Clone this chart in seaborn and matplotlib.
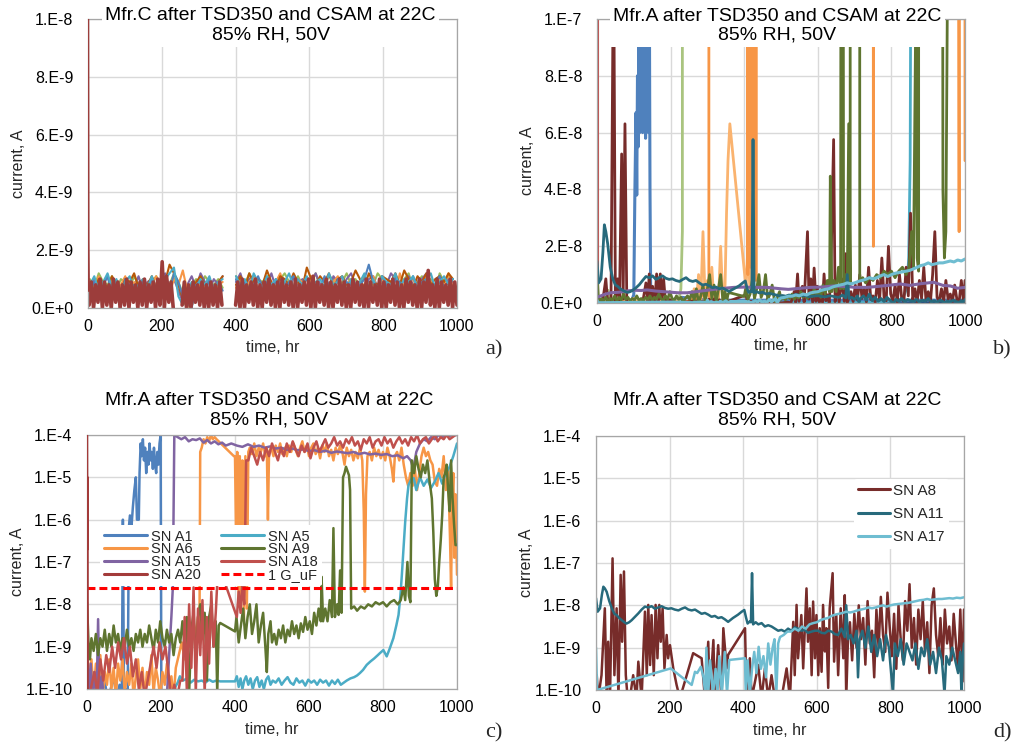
import numpy as np
import matplotlib
matplotlib.use("Agg")
import matplotlib.pyplot as plt
from matplotlib.lines import Line2D
from matplotlib.ticker import LogLocator, NullFormatter
import seaborn as sns

nan = np.nan

# ======================= DATA =======================
# x axis
x_ticks = [0, 200, 400, 600, 800, 1000]

# ---- panel a (Mfr.C) : current in units of 1e-10 A ----
a_red_start = [(0, 100), (0.8, 24), (2, 6)]
a_red_step = 6            # hr, sampling of the red trace
a_red_t0 = [3, 400]       # start of the two recorded blocks
a_red1 = [1, 9, 0, 8, 2, 10, 0, 9, 1, 8, 0, 10, 2, 9, 0, 8, 1, 10, 0, 9, 2, 8, 0, 9, 1, 10, 0, 8, 2, 9,
          0, 10, 1, 16, 0, 11, 2, 9, 0, nan, nan, nan, 1, 9, 0, 8, 0, 9, 2, 8, 1, 9, 0, 8, 0, 9, 1, 8, 0, 9, 1]
a_red2 = [1, 9, 0, 10, 0, 8, 2, 9, 1, 10, 0, 8, 0, 9, 2, 10, 1, 8, 0, 9, 0, 10, 2, 8, 1, 9, 0, 10, 0, 8,
          2, 9, 1, 10, 0, 11, 0, 9, 2, 8, 1, 10, 0, 9, 0, 8, 2, 10, 1, 9, 0, 8, 0, 10, 2, 9, 1, 8, 0, 10,
          0, 9, 2, 8, 1, 10, 0, 9, 0, 8, 2, 10, 1, 9, 0, 8, 0, 10, 2, 9, 1, 8, 0, 10, 0, 9, 2, 13, 1, 8,
          0, 10, 0, 9, 2, 8, 1, 10, 0, 9, 1]
a_other_step = 12
a_other_t0 = [5, 401]
a_blue1 = [6, 9, 4, 8, 11, 5, 9, 3, 10, 7, 8, 4, 9, 6, 10, 5, 8, 11, 6, 12, 9, 4, 2, 0, 8, 9, 5, 10, 7, 9, 6]
a_blue2 = [10, 6, 9, 5, 8, 11, 7, 9, 4, 10, 8, 6, 9, 11, 5, 8, 10, 7, 9, 6, 11, 8, 5, 10, 7, 9, 8, 6, 8, 10,
           15, 9, 7, 11, 8, 6, 10, 9, 5, 8, 11, 7, 9, 10, 6, 8, 11, 7, 9, 10]
a_orange1 = [9, 5, 11, 7, 4, 10, 6, 8, 11, 5, 9, 7, 10, 4, 8, 11, 6, 9, 5, 10, 8, 13, 6, 1, 3, 9, 7, 10, 5, 8, 9]
a_orange2 = [7, 10, 5, 9, 11, 6, 8, 10, 4, 9, 12, 7, 8, 5, 10, 9, 6, 11, 8, 7, 10, 5, 9, 11, 6, 8, 10, 7, 9, 5,
             8, 11, 6, 10, 8, 9, 5, 12, 7, 9, 10, 6, 8, 11, 9, 5, 10, 8, 12, 7]
a_aqua1 = [8, 11, 6, 9, 12, 7, 10, 5, 9, 11, 6, 8, 10, 7, 11, 6, 9, 10, 12, 14, 4, 1, 6, 9, 7, 10, 8, 11, 6, 9, 10]
a_aqua2 = [11, 8, 10, 6, 12, 9, 7, 11, 8, 10, 6, 9, 12, 7, 10, 8, 11, 6, 9, 10, 7, 12, 8, 9, 11, 6, 10, 8, 9, 12,
           7, 10, 6, 11, 9, 8, 12, 7, 10, 9, 11, 6, 8, 10, 12, 7, 9, 11, 8, 10]
a_purple1 = [7, 10, 5, 8, 11, 6, 9, 4, 10, 8, 7, 11, 6, 9, 10, 5, 8, 12, 7, 10, 6, 2, 8, 11, 7, 12, 9, 6, 10, 8, 11]
a_purple2 = [9, 12, 7, 10, 11, 6, 9, 8, 12, 7, 10, 9, 6, 11, 8, 10, 7, 9, 12, 8, 10, 6, 11, 9, 7, 10, 12, 8, 9, 6,
             10, 11, 7, 9, 8, 12, 10, 6, 9, 11, 8, 7, 10, 12, 9, 8, 11, 7, 10, 9]
a_green1 = [10, 7, 12, 9, 8, 11, 6, 10, 9, 7, 11, 8, 10, 6, 9, 11, 7, 10, 8, 12, 9, 5, 1, 8, 10, 7, 11, 9, 8, 10, 7]
a_green2 = [11, 9, 8, 12, 7, 10, 9, 11, 8, 6, 10, 12, 9, 7, 11, 8, 10, 9, 12, 7, 8, 11, 10, 6, 9, 12, 8, 10, 7, 11,
            9, 8, 12, 10, 7, 9, 11, 8, 10, 12, 7, 9, 11, 8, 10, 6, 12, 9, 11, 10]
a_dkorange1 = [8, 6, 10, 9, 7, 11, 8, 6, 10, 9, 12, 7, 9, 8, 11, 7, 10, 9, 15, 12, 8, 3, 0, 7, 9, 11, 8, 10, 6, 9, 11]
a_dkorange2 = [8, 11, 7, 12, 9, 10, 8, 13, 9, 7, 11, 10, 8, 12, 9, 7, 14, 10, 8, 11, 9, 12, 7, 10, 11, 8, 9, 13, 10, 7,
               12, 9, 8, 11, 10, 9, 12, 8, 13, 10, 7, 11, 9, 12, 8, 10, 11, 9, 12, 10]

# ---- panels b, c, d (Mfr.A) : (time hr, log10 current A) ----
A1 = [(0, -9.5), (8, -10.0), (16, -9.7), (24, -10.2), (32, -9.9), (40, -10.1), (48, -9.8), (56, -10.3), (64, -10.0),
      (72, -9.7), (80, -10.2), (88, -9.9), (94, -10.2), (97, -6.0), (100, -10.2), (104, -10.0), (110, -10.2),
      (113, -6.2), (116, -5.9), (120, -6.2), (124, -5.7), (128, -5.3), (132, -5.0), (135, -6.0), (138, -6.0),
      (140, -6.0), (142, -4.9), (145, -4.2), (148, -4.5), (151, -4.1), (154, -4.6), (157, -4.3), (160, -4.9),
      (163, -4.4), (166, -4.7), (169, -4.2), (172, -4.6), (175, -4.4), (178, -4.8), (181, -4.3), (184, -4.7),
      (187, -4.9), (190, -4.4), (193, -4.7), (196, -4.2), (199, -4.0), (201, -10.5)]
A6 = [(0, -9.0), (6, -9.8), (12, -9.3), (18, -10.1), (24, -9.4), (30, -9.9), (36, -9.2), (42, -10.2), (48, -9.6),
      (54, -9.9), (60, -9.3), (66, -10.0), (72, -9.5), (78, -10.2), (84, -9.4), (90, -9.8), (96, -9.3), (102, -10.1),
      (108, -9.6), (114, -9.9), (120, -9.4), (126, -10.2), (132, -9.7), (138, -9.3), (144, -10.0), (150, -9.5),
      (156, -10.2), (162, -9.6), (168, -9.9), (174, -9.2), (180, -10.1), (186, -9.5), (192, -9.8), (198, -10.2),
      (204, -9.6), (210, -9.9), (216, -9.4), (222, -10.1), (228, -9.7), (234, -10.2), (240, -9.5), (248, -9.2),
      (256, -8.9), (264, -9.3), (272, -8.7), (280, -9.0), (288, -8.4), (294, -8.8), (300, -8.3), (304, -8.6),
      (306, -4.4), (310, -4.3), (315, -4.1), (320, -4.2), (325, -4.05), (330, -4.15), (335, -4.0), (340, -4.1),
      (345, -4.05), (350, -4.1), (397, -4.5), (400, -4.5), (403, -6.5), (406, -4.4), (410, -8.0), (413, -4.5),
      (417, -7.9), (420, -4.6), (424, -8.4), (428, -4.5), (432, -8.1), (436, -4.4),
      (440, -4.3), (446, -4.45), (452, -4.2), (458, -4.5), (464, -4.3), (470, -4.4), (476, -4.2), (482, -4.5),
      (486, -4.3), (489, -6.0), (492, -4.4), (498, -4.3), (504, -4.5), (510, -4.25), (516, -4.4), (522, -4.2),
      (528, -4.45), (534, -4.3), (540, -4.5), (546, -4.25), (552, -4.4), (558, -4.2), (564, -4.35), (570, -4.5),
      (576, -4.3), (582, -4.15), (588, -4.4), (594, -4.25), (600, -4.5), (606, -4.3), (612, -4.2), (618, -4.45),
      (624, -4.3), (630, -4.55), (636, -4.25), (642, -4.4), (648, -4.2), (654, -4.5), (660, -4.35), (666, -4.6),
      (672, -4.3), (678, -4.45), (684, -4.25), (690, -4.4), (696, -4.7), (702, -4.3), (708, -4.5), (714, -4.35),
      (720, -4.6), (726, -4.4), (732, -4.55), (738, -4.3), (744, -4.6), (748, -5.8), (751, -7.7), (754, -5.4),
      (758, -4.5), (764, -4.4), (770, -4.6), (776, -4.3), (782, -4.5), (788, -4.35), (794, -4.55), (800, -4.4),
      (806, -4.6), (812, -4.3), (818, -4.5), (824, -4.8), (828, -5.1), (832, -4.5), (838, -4.4), (844, -4.6),
      (850, -4.3), (856, -4.7), (862, -5.0), (868, -5.2), (874, -4.9), (880, -5.2), (886, -4.8), (892, -5.3),
      (898, -4.9), (904, -4.5), (910, -4.3), (916, -4.5), (922, -4.4), (928, -4.6), (934, -4.7), (940, -5.1),
      (946, -5.2), (952, -4.8), (958, -5.0), (964, -4.5), (970, -5.3), (976, -4.8), (981, -6.4), (984, -7.6),
      (987, -5.6), (990, -4.9), (993, -6.9), (996, -5.4), (1000, -7.3)]
A15 = [(0, -9.0), (5, -10.2), (10, -9.4), (15, -10.2), (20, -9.6), (26, -10.2), (30, -8.35), (34, -10.2), (40, -9.7),
       (46, -10.3), (215, -10.3), (222, -9.2), (228, -8.3), (232, -7.6), (236, -4.0), (245, -4.05), (255, -4.1),
       (265, -4.05), (275, -4.15), (285, -4.1), (295, -4.12), (305, -4.08), (315, -4.18), (325, -4.12), (335, -4.2),
       (345, -4.15), (355, -4.22), (365, -4.18), (375, -4.25), (390, -4.2), (405, -4.25), (420, -4.28), (435, -4.22),
       (450, -4.28), (465, -4.25), (480, -4.3), (495, -4.27), (510, -4.32), (525, -4.3), (540, -4.35), (555, -4.32),
       (570, -4.36), (585, -4.34), (600, -4.38), (615, -4.36), (630, -4.4), (645, -4.37), (660, -4.42), (675, -4.39),
       (690, -4.41), (705, -4.43), (720, -4.4), (735, -4.45), (750, -4.42), (765, -4.46), (780, -4.44), (795, -4.47),
       (810, -4.45), (825, -4.5), (840, -4.48), (855, -4.55), (865, -4.5), (875, -4.6), (882, -4.8), (890, -4.4),
       (900, -4.2), (910, -4.1), (920, -4.15), (930, -4.05), (940, -4.1), (950, -4.0), (960, -4.05), (970, -4.0),
       (980, -4.02), (990, -4.0), (1000, -4.0)]
A20 = [(0, -4.0), (0.6, -6.7), (1.2, -5.0), (1.8, -10.5)]
A5 = [(0, -10.3), (230, -10.3), (236, -10.0), (245, -9.85), (251, -9.7), (260, -9.8), (270, -9.75), (280, -9.85),
      (290, -9.78), (300, -9.82), (310, -9.8), (320, -9.85), (330, -9.78), (340, -9.83), (350, -9.8), (360, -9.82),
      (400, -9.82), (405, -9.7), (410, -9.95), (415, -9.75), (420, -10.0), (425, -9.8), (430, -9.7), (436, -9.9),
      (442, -9.75), (448, -10.0), (454, -9.8), (460, -9.72), (466, -9.95), (472, -9.8), (478, -10.0), (484, -9.78),
      (490, -9.7), (496, -9.9), (502, -9.8), (510, -9.85), (518, -9.75), (526, -9.9), (534, -9.8), (542, -9.72),
      (550, -9.85), (558, -9.9), (566, -9.75), (574, -9.85), (582, -9.8), (590, -9.92), (598, -9.78), (606, -9.85),
      (614, -9.8), (622, -9.9), (630, -9.78), (638, -9.85), (646, -9.8), (654, -9.92), (662, -9.8), (670, -9.88),
      (678, -9.78), (686, -9.9), (694, -9.85), (702, -9.8), (712, -9.75), (722, -9.72), (730, -9.68), (738, -9.62),
      (746, -9.55), (756, -9.43), (766, -9.35), (776, -9.28), (786, -9.2), (792, -9.15), (801, -9.08), (810, -9.23),
      (818, -9.05), (828, -8.8), (836, -8.5), (842, -8.25), (847, -7.8), (851, -7.3), (856, -6.6), (860, -6.05),
      (865, -5.5), (869, -5.18), (876, -5.05), (883, -5.02), (890, -5.3), (900, -5.0), (910, -5.2), (920, -5.05),
      (930, -5.25), (940, -5.1), (950, -4.9), (960, -5.15), (970, -4.9), (980, -4.75), (990, -4.5), (1000, -4.2)]
A9 = [(0, -7.95), (4, -8.9), (8, -9.3), (12, -8.8), (18, -9.1), (24, -8.7), (30, -9.2), (36, -8.8), (42, -9.0),
      (48, -8.6), (54, -9.1), (60, -8.7), (66, -9.0), (72, -8.5), (78, -8.9), (84, -8.7), (90, -9.1), (96, -8.8),
      (102, -9.0), (108, -8.6), (114, -9.0), (120, -8.8), (126, -9.1), (132, -8.7), (138, -8.9), (144, -8.6),
      (150, -9.0), (156, -8.7), (162, -8.9), (168, -8.5), (174, -8.8), (180, -9.1), (186, -8.6), (192, -8.9),
      (198, -8.4), (204, -8.8), (210, -9.0), (216, -8.6), (222, -8.9), (228, -8.7), (234, -9.2), (240, -8.8),
      (246, -8.6), (252, -8.9), (258, -8.4), (264, -9.0), (270, -8.3), (276, -10.1), (282, -8.6), (288, -8.2),
      (294, -9.4), (300, -8.3), (306, -8.0), (312, -8.8), (318, -8.2), (324, -9.8), (330, -8.3), (336, -8.0),
      (342, -9.0), (348, -8.4), (352, -10.1), (356, -8.5), (360, -8.44), (400, -8.64), (404, -8.3), (410, -8.9),
      (416, -8.5), (422, -8.1), (428, -8.8), (434, -8.3), (440, -8.0), (446, -8.7), (452, -8.4), (458, -8.0),
      (464, -8.9), (470, -8.5), (476, -8.2), (482, -9.0), (486, -9.6), (490, -8.7), (496, -8.4), (500, -8.9),
      (506, -8.7), (512, -8.95), (518, -8.6), (524, -8.8), (530, -8.5), (536, -8.9), (542, -8.6), (548, -8.75),
      (554, -8.4), (560, -8.7), (566, -8.5), (572, -8.8), (578, -8.45), (584, -8.65), (590, -8.3), (596, -8.6),
      (602, -8.4), (608, -8.7), (614, -8.2), (620, -8.5), (626, -8.1), (632, -8.4), (634, -7.35), (638, -8.4),
      (644, -8.1), (650, -8.4), (656, -7.9), (662, -8.3), (666, -6.2), (670, -8.3), (676, -8.0), (680, -8.25),
      (684, -7.2), (688, -8.2), (692, -5.0), (696, -4.9), (700, -4.75), (704, -4.85), (708, -4.95), (711, -5.3),
      (714, -8.1), (722, -8.05), (730, -8.15), (740, -8.05), (750, -8.1), (760, -8.0), (770, -8.05), (780, -7.95),
      (790, -8.0), (800, -7.95), (810, -8.05), (820, -7.95), (830, -7.9), (840, -8.0), (848, -7.9), (855, -7.6),
      (860, -7.9), (866, -7.0), (870, -7.8), (874, -7.95), (878, -4.6), (884, -4.9), (890, -4.5), (896, -4.8),
      (902, -5.0), (908, -4.7), (914, -4.9), (920, -4.6), (926, -5.1), (932, -5.5), (936, -6.3), (940, -7.4),
      (944, -7.8), (948, -7.6), (952, -7.0), (956, -6.5), (960, -5.9), (964, -5.0), (968, -4.9), (972, -4.7),
      (976, -5.3), (980, -5.8), (984, -4.6), (988, -5.5), (992, -6.1), (996, -6.6), (1000, -6.6)]
A18 = [(0, -10.3), (10, -10.0), (20, -9.6), (28, -10.1), (36, -9.3), (44, -9.8), (52, -9.2), (60, -9.6), (68, -9.0),
       (76, -9.5), (84, -8.9), (92, -9.3), (100, -8.8), (108, -9.4), (116, -9.0), (124, -9.7), (132, -9.3),
       (140, -10.0), (148, -9.6), (156, -10.2), (164, -9.8), (172, -9.4), (180, -9.0), (188, -9.5), (196, -8.9),
       (204, -9.3), (212, -9.0), (220, -9.6), (228, -10.2), (236, -9.9), (244, -10.2), (252, -9.8), (258, -9.8),
       (264, -8.3), (270, -10.1), (276, -8.0), (282, -9.5), (288, -7.6), (294, -10.1), (300, -8.1), (306, -9.2),
       (312, -7.9), (318, -10.1), (324, -8.3), (330, -9.4), (336, -7.7), (342, -9.0), (348, -8.2), (352, -7.5),
       (356, -7.3), (361, -7.2), (405, -8.3), (410, -7.7), (415, -8.2), (420, -7.5), (425, -8.0), (430, -4.6)]
A18_top_t0, A18_top_step = 436, 8
A18_top = [-4.6, -4.3, -4.5, -4.7, -4.4, -4.6, -4.3, -4.5, -4.2, -4.4, -4.6, -4.3, -4.5, -4.2, -4.4, -4.15, -4.35,
           -4.5, -4.25, -4.4, -4.2, -4.55, -4.3, -4.15, -4.4, -4.25, -4.1, -4.3, -4.2, -4.05, -4.25, -4.15, -4.3,
           -4.1, -4.2, -4.05, -4.25, -4.15, -4.35, -4.1, -4.2, -4.05, -4.3, -4.15, -4.1, -4.25, -4.05, -4.2, -4.1,
           -4.3, -4.15, -4.05, -4.2, -4.1, -4.25, -4.05, -4.15, -4.0, -4.2, -4.1, -4.05, -4.2, -4.1, -4.0, -4.15,
           -4.05, -4.1, -4.0, -4.1, -4.05, -4.0]
G_uF_level = 2.4e-8

A8 = [(2, -9.65), (6, -10.2), (15, -9.65), (24, -8.07), (29, -10.2), (33, -8.86), (38, -10.2), (45, -6.89),
      (50, -9.65), (56, -8.07), (61, -10.2), (67, -7.28), (71, -8.86), (76, -7.2), (81, -9.65), (86, -10.2),
      (92, -10.2), (101, -9.65), (110, -10.2), (115, -9.33), (124, -10.2), (133, -8.15), (138, -9.65), (142, -7.99),
      (147, -9.41), (151, -8.23), (157, -9.65), (162, -7.99), (167, -9.25), (172, -7.99), (176, -8.86), (181, -8.07),
      (186, -9.49), (192, -8.7), (196, -9.25), (201, -8.94), (210, -9.49), (219, -9.88), (228, -10.2), (264, -9.13),
      (287, -9.25), (296, -10.2), (305, -8.86), (309, -10.2), (319, -8.82), (323, -10.2), (332, -8.94), (341, -10.2),
      (346, -8.54), (355, -9.49), (359, -9.17), (405, -8.54), (409, -10.2), (418, -9.25), (423, -10.2), (441, -9.41),
      (450, -10.2), (459, -9.49), (468, -10.2), (477, -9.65), (486, -10.2), (504, -10.2), (518, -9.49), (527, -10.2),
      (536, -8.39), (540, -9.65), (545, -7.99), (549, -9.25), (558, -8.23), (563, -9.49), (572, -7.6), (576, -8.86),
      (581, -8.07), (586, -9.65), (590, -7.91), (595, -9.25), (599, -8.23), (604, -9.65), (608, -8.54), (613, -9.57),
      (617, -7.99), (622, -9.09), (626, -8.54), (631, -9.95), (635, -8.07), (643, -7.24), (647, -9.33), (653, -8.23),
      (658, -9.65), (665, -8.07), (672, -9.25), (676, -7.76), (680, -10.2), (685, -8.7), (690, -8.4), (696, -9.3),
      (702, -8.2), (708, -9.0), (714, -8.0), (720, -8.8), (726, -8.3), (732, -9.4), (738, -7.9), (744, -8.9),
      (750, -8.6), (756, -9.7), (762, -8.1), (768, -9.0), (774, -7.8), (780, -8.7), (786, -9.1), (792, -7.7),
      (798, -8.5), (804, -9.2), (810, -8.2), (816, -9.5), (822, -8.0), (828, -8.8), (834, -9.3), (840, -7.9),
      (846, -8.6), (852, -7.5), (858, -9.0), (864, -8.3), (870, -9.4), (876, -8.1), (882, -8.8), (888, -7.9),
      (894, -9.1), (900, -8.4), (906, -9.6), (912, -8.0), (918, -7.6), (924, -8.7), (930, -9.2), (936, -8.3),
      (942, -9.4), (948, -8.1), (954, -8.9), (960, -8.5), (966, -9.3), (972, -8.2), (978, -8.9), (984, -9.5),
      (990, -8.1), (996, -9.8), (1000, -8.1)]
A11 = [(0, -7.83), (4.5, -8.15), (11, -8.07), (16, -7.75), (20, -7.56), (24, -7.6), (29, -7.68), (36, -7.9),
       (43, -8.07), (50, -8.2), (56, -8.23), (63, -8.3), (70, -8.35), (77, -8.4), (83, -8.43), (90, -8.4),
       (97, -8.35), (106, -8.27), (115, -8.19), (124, -8.1), (133, -8.03), (142, -8.05), (151, -8.02), (160, -8.08),
       (169, -8.05), (178, -8.02), (187, -8.06), (196, -8.08), (205, -8.07), (214, -8.1), (224, -8.12), (233, -8.08),
       (242, -8.05), (251, -8.1), (260, -8.12), (269, -8.1), (278, -8.15), (287, -8.2), (296, -8.18), (305, -8.22),
       (314, -8.27), (323, -8.25), (332, -8.3), (341, -8.28), (350, -8.33), (359, -8.39), (372, -8.3), (386, -8.22),
       (396, -8.15), (403, -8.11), (408, -8.3), (412, -8.43), (418, -8.38), (421, -8.4), (424, -7.24), (427, -8.45),
       (434, -8.4), (441, -8.45), (450, -8.42), (459, -8.5), (468, -8.47), (477, -8.5), (486, -8.55), (495, -8.6),
       (504, -8.58), (513, -8.62), (522, -8.55), (531, -8.6), (540, -8.52), (549, -8.55), (558, -8.6), (567, -8.58),
       (576, -8.65), (586, -8.62), (595, -8.6), (604, -8.6), (613, -8.65), (622, -8.66), (631, -8.6), (640, -8.62),
       (649, -8.68), (658, -8.7), (667, -8.55), (676, -8.75), (680, -8.0), (685, -8.8), (692, -8.7), (700, -8.9),
       (708, -8.6), (712, -9.7), (716, -8.8), (724, -8.6), (732, -9.0), (740, -8.5), (748, -9.1), (756, -8.7),
       (764, -9.2), (772, -8.8), (780, -9.3), (788, -8.7), (796, -9.0), (802, -9.6), (807, -10.1), (812, -8.9),
       (820, -9.2), (828, -8.8), (836, -9.4), (844, -8.9), (852, -9.1), (860, -9.3), (868, -8.9), (876, -9.5),
       (884, -9.0), (892, -9.2), (900, -8.8), (908, -9.4), (916, -9.1), (924, -9.6), (932, -9.0), (940, -9.3),
       (947, -10.1), (952, -9.2), (960, -9.4), (968, -9.0), (976, -9.3), (984, -9.6), (990, -9.1), (993, -10.1),
       (997, -9.2), (1000, -8.9)]
A17 = [(0, -9.0), (3, -10.0), (203, -9.49), (260, -9.88), (269, -9.57), (275, -9.6), (285, -9.45), (292, -9.7),
       (297, -10.1), (300, -9.0), (305, -10.1), (310, -9.3), (318, -10.1), (325, -9.5), (330, -10.1), (335, -9.2),
       (342, -10.1), (350, -9.1), (356, -10.1), (362, -9.29), (405, -9.25), (407, -10.1), (412, -9.3), (418, -10.1),
       (424, -9.5), (430, -9.1), (436, -9.6), (442, -8.98), (448, -9.5), (455, -9.2), (462, -9.7), (468, -8.9),
       (474, -9.4), (480, -9.0), (485, -8.8), (490, -10.1), (495, -8.9), (500, -8.75), (510, -8.7), (520, -8.62),
       (530, -8.62), (540, -8.55), (550, -8.6), (560, -8.5), (570, -8.55), (580, -8.45), (590, -8.42), (600, -8.4),
       (610, -8.35), (620, -8.32), (630, -8.3), (640, -8.25), (650, -8.22), (660, -8.2), (670, -8.18), (680, -8.15),
       (690, -8.17), (700, -8.15), (710, -8.12), (720, -8.1), (730, -8.08), (740, -8.05), (750, -8.07), (760, -8.05),
       (770, -8.02), (780, -8.0), (790, -8.03), (800, -8.0), (810, -7.98), (820, -7.97), (830, -7.96), (840, -7.95),
       (850, -7.94), (860, -7.92), (870, -7.9), (880, -7.88), (890, -7.87), (900, -7.85), (910, -7.87), (920, -7.86),
       (930, -7.85), (940, -7.85), (950, -7.84), (960, -7.83), (970, -7.84), (980, -7.82), (990, -7.83), (1000, -7.81)]
# extra panel-b traces, current in units of 1e-8 A
b_purple = [(0, 0.2), (10, 0.25), (20, 0.3), (37, 0.36), (60, 0.38), (80, 0.42), (100, 0.45), (120, 0.44),
            (136, 0.46), (160, 0.42), (180, 0.4), (200, 0.38), (220, 0.36), (245, 0.36), (270, 0.4), (300, 0.45),
            (330, 0.5), (372, 0.55), (400, 0.56), (430, 0.55), (462, 0.55), (500, 0.5), (520, 0.48), (553, 0.52),
            (580, 0.55), (610, 0.56), (643, 0.6), (680, 0.58), (700, 0.55), (734, 0.55), (760, 0.58), (790, 0.62),
            (824, 0.67), (850, 0.62), (880, 0.68), (915, 0.73), (940, 0.62), (960, 0.6), (980, 0.52), (1000, 0.55)]
b_navy = [(0, 0.08), (100, 0.05), (200, 0.04), (225, 0.15), (240, 0.05), (300, 0.06), (400, 0.04), (500, 0.05),
          (600, 0.04), (700, 0.06), (800, 0.05), (900, 0.04), (1000, 0.05)]
b_blue = [(0, 0.1), (95, 0.1), (100, 0.3), (103, 4.0), (106, 6.7), (108, 3.8), (110, 8.0), (112, 5.5), (114, 9.5),
          (116, 6.0), (118, 12.0), (120, 7.0), (122, 9.0), (124, 6.0), (126, 12.0), (128, 7.5), (130, 10.0),
          (132, 5.8), (134, 12.0), (136, 6.5), (138, 10.0), (140, 6.0), (142, 12.0), (144, 4.0), (146, 0.1),
          (200, 0.1), (230, 0.2), (300, 0.1), (1000, 0.1)]

# ======================= STYLE =======================
sns.set_theme(style="white")
plt.rcParams["font.family"] = ["Liberation Sans", "DejaVu Sans"]

W, H = 1018, 746
fig = plt.figure(figsize=(W / 100, H / 100), dpi=100)


def box(l, t, r, b):
    return [l / W, 1 - b / H, (r - l) / W, (b - t) / H]


axA = fig.add_axes(box(88, 19, 457, 308))
axB = fig.add_axes(box(597, 19, 965, 303))
axC = fig.add_axes(box(87, 435, 457, 689))
axD = fig.add_axes(box(596, 436, 964, 690))


def unzip(p):
    a = np.array(p, float)
    return a[:, 0], a[:, 1]


def draw(ax, t, y, color, lw, z=2):
    t = np.asarray(t, float)
    y = np.asarray(y, float)
    idx = np.where(np.isfinite(y))[0]
    if len(idx) == 0:
        return
    runs = np.split(idx, np.where(np.diff(idx) > 1)[0] + 1)
    for r in runs:
        if len(r) < 2:
            continue
        sns.lineplot(x=t[r], y=y[r], ax=ax, color=color, lw=lw, estimator=None,
                     sort=False, legend=False, zorder=z)


def draw_log(ax, pairs, color, lw, z=2):
    t, v = unzip(pairs)
    draw(ax, t, 10.0 ** v, color, lw, z)


def blocks(t0s, step, segs):
    ts, vs = [], []
    for t0, s in zip(t0s, segs):
        ts.append(t0 + step * np.arange(len(s)))
        vs.append(np.asarray(s, float))
        ts.append([nan]); vs.append([nan])
    return np.concatenate(ts), np.concatenate(vs)


GRID = "#d9d9d9"
SPINE = "#a6a6a6"


def style(ax, yticks, ylabels, log, title, tpos, bbox):
    ax.set_xlim(0, 1000)
    ax.set_xticks(x_ticks)
    ax.set_xticklabels([str(v) for v in x_ticks])
    ax.set_yticks(yticks)
    ax.set_yticklabels(ylabels)
    ax.set_ylim(yticks[0], yticks[-1])
    for s in ax.spines.values():
        s.set_color(SPINE)
        s.set_linewidth(0.9)
    ax.grid(True, which="major", color=GRID, lw=1.0)
    ax.set_axisbelow(True)
    ax.tick_params(axis="x", which="major", length=0, pad=8, labelsize=11.5, labelcolor="black")
    ax.tick_params(axis="y", which="major", length=0, pad=10.5, labelsize=11.5, labelcolor="black")
    if log:
        ax.yaxis.set_minor_locator(LogLocator(base=10, subs=np.arange(2, 10) * 1.0, numticks=30))
        ax.yaxis.set_minor_formatter(NullFormatter())
        ax.tick_params(axis="y", which="minor", direction="in", length=3, width=0.6, color="#8c8c8c")
    ax.set_xlabel("time, hr", fontsize=11.5)
    ax.set_ylabel("current, A", fontsize=11.5)
    kw = dict(transform=ax.transAxes, ha="center", va="center", fontsize=14, zorder=10,
              linespacing=1.15, color="black")
    if bbox:
        kw["bbox"] = dict(fc="white", ec="none", pad=2.5)
    ax.text(tpos[0], tpos[1], title, **kw)


# ---------------- panel a ----------------
a_cols = {"blue": "#4F81BD", "orange": "#F79646", "aqua": "#4BACC6", "purple": "#8064A2",
          "green": "#9BBB59", "dkorange": "#B65708"}
a_series = [(a_green1, a_green2, a_cols["green"]), (a_purple1, a_purple2, a_cols["purple"]),
            (a_orange1, a_orange2, a_cols["orange"]), (a_dkorange1, a_dkorange2, a_cols["dkorange"]),
            (a_blue1, a_blue2, a_cols["blue"]), (a_aqua1, a_aqua2, a_cols["aqua"])]
for s1, s2, c in a_series:
    t, v = blocks(a_other_t0, a_other_step, [s1, s2])
    draw(axA, t, v * 1e-10, c, 1.5)
ts, vs = unzip(a_red_start)
draw(axA, ts, vs * 1e-10, "#9C3D3B", 1.8, z=3)
t, v = blocks(a_red_t0, a_red_step, [a_red1, a_red2])
draw(axA, t, v * 1e-10, "#9C3D3B", 2.6)
style(axA, [0, 2e-9, 4e-9, 6e-9, 8e-9, 1e-8], ["0.E+0", "2.E-9", "4.E-9", "6.E-9", "8.E-9", "1.E-8"],
      False, "Mfr.C after TSD350 and CSAM at 22C\n85% RH, 50V", (0.495, 0.978), True)

# ---------------- panel c ----------------
A18_full = A18 + [(A18_top_t0 + A18_top_step * i, v) for i, v in enumerate(A18_top)]
c_series = [("SN A1", A1, "#4F81BD"), ("SN A6", A6, "#F79646"), ("SN A15", A15, "#8064A2"),
            ("SN A20", A20, "#A33B3A"), ("SN A5", A5, "#4BACC6"), ("SN A9", A9, "#5F7530"),
            ("SN A18", A18_full, "#C0504D")]
for name, p, c in c_series:
    draw_log(axC, p, c, 1.8, z=(3 if name == "SN A20" else 2))
sns.lineplot(x=[0, 1000], y=[G_uF_level, G_uF_level], ax=axC, color="#FF0000", lw=2.2,
             estimator=None, legend=False)
axC.get_lines()[-1].set_dashes([2.6, 1.3])
axC.set_yscale("log")
decs = [1e-10, 1e-9, 1e-8, 1e-7, 1e-6, 1e-5, 1e-4]
declabels = ["1.E-10", "1.E-9", "1.E-8", "1.E-7", "1.E-6", "1.E-5", "1.E-4"]
style(axC, decs, declabels, True, "Mfr.A after TSD350 and CSAM at 22C\n85% RH, 50V", (0.492, 1.098), False)
handles = [Line2D([], [], color=c, lw=2.2) for _, _, c in c_series]
handles.append(Line2D([], [], color="#FF0000", lw=2.2, dashes=[2.6, 1.3]))
labels = [n for n, _, _ in c_series] + ["1 G_uF"]
axC.legend(handles, labels, ncol=2, loc="upper left", bbox_to_anchor=(0.035, 0.645), fontsize=10.5,
           handlelength=2.9, handletextpad=0.3, columnspacing=1.4, labelspacing=-0.08, borderpad=0.3,
           frameon=True, facecolor="white", edgecolor="none", framealpha=1.0, borderaxespad=0)

# ---------------- panel d ----------------
d_series = [("SN A8", A8, "#772C2A"), ("SN A11", A11, "#276A7C"), ("SN A17", A17, "#6FBDD1")]
for name, p, c in d_series:
    draw_log(axD, p, c, 1.8)
axD.set_yscale("log")
style(axD, decs, declabels, True, "Mfr.A after TSD350 and CSAM at 22C\n85% RH, 50V", (0.491, 1.102), False)
hd = [Line2D([], [], color=c, lw=2.2) for _, _, c in d_series]
axD.legend(hd, [n for n, _, _ in d_series], loc="upper left", bbox_to_anchor=(0.70, 0.83), fontsize=11,
           handlelength=2.1, handletextpad=0.15, labelspacing=0.6, borderpad=0.3, frameon=True,
           facecolor="white", edgecolor="none", framealpha=1.0, borderaxespad=0)

# ---------------- panel b ----------------
tn, vn = unzip(b_navy)
draw(axB, tn, vn * 1e-8, "#1F497D", 1.8)
tb, vb = unzip(b_blue)
draw(axB, tb, vb * 1e-8, "#4F81BD", 2.2)
b_series = [(A5, "#4BACC6"), (A20, "#C0504D"), (A15, "#A9C47F"), (A18_full, "#FAB36F"),
            (A6, "#F79646"), (A8, "#772C2A"), (A9, "#5F7530")]
for p, c in b_series:
    draw_log(axB, p, c, 2.0)
tp, vp = unzip(b_purple)
draw(axB, tp, vp * 1e-8, "#8064A2", 2.2)
draw_log(axB, A11, "#276A7C", 2.0)
draw_log(axB, A17, "#6FBDD1", 2.2)
style(axB, [0, 2e-8, 4e-8, 6e-8, 8e-8, 1e-7], ["0.E+0", "2.E-8", "4.E-8", "6.E-8", "8.E-8", "1.E-7"],
      False, "Mfr.A after TSD350 and CSAM at 22C\n85% RH, 50V", (0.49, 0.977), True)

# axis label positions
for ax, (yl, xl) in zip([axA, axB, axC, axD], [(-0.187, -0.138), (-0.19, -0.148), (-0.1865, -0.161), (-0.19, -0.161)]):
    ax.yaxis.set_label_coords(yl, 0.5)
    ax.xaxis.set_label_coords(0.5, xl)
    ax.yaxis.label.set_va("center")
    ax.xaxis.label.set_va("center")

# panel letters
for txt, x, y in [("a)", 485, 350), ("b)", 993, 350), ("c)", 485, 733), ("d)", 993, 733)]:
    fig.text(x / W, 1 - y / H, txt, ha="left", va="center", fontsize=16, family="Liberation Serif")

fig.savefig("out.png", dpi=100)
